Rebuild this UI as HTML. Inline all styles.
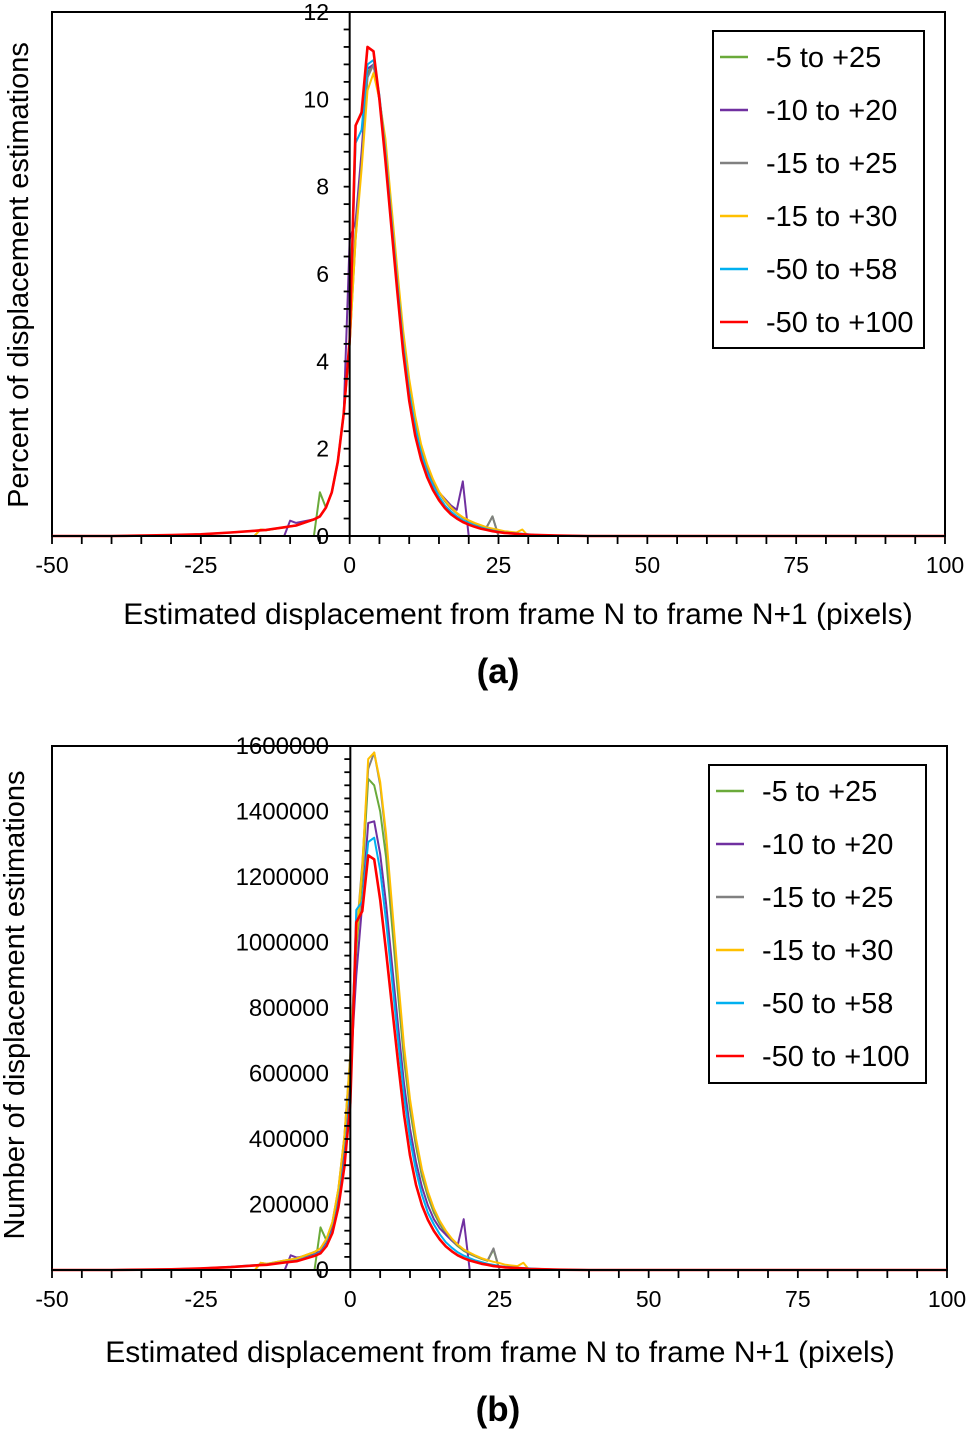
<!DOCTYPE html>
<html><head><meta charset="utf-8"><style>
body{margin:0;background:#fff;}
svg{display:block;font-family:"Liberation Sans",Arial,sans-serif;}
</style></head><body>
<svg id="fig" width="968" height="1432" viewBox="0 0 968 1432" xmlns="http://www.w3.org/2000/svg"></svg>
<script>
const xs=[-50,-40,-35,-30,-25,-20,-16,-15,-14,-11,-10,-9,-6,-5,-4,-3,-2,-1,0,1,2,3,4,5,6,7,8,9,10,11,12,13,14,15,16,17,18,19,20,21,22,23,24,25,26,28,29,30,31,35,40,100];
const seriesNames=["-5 to +25","-10 to +20","-15 to +25","-15 to +30","-50 to +58","-50 to +100"];
const seriesColors=["#6aaa3a","#7030a0","#808080","#ffc000","#00b0f0","#ff0000"];
const xTicks=[-50,-25,0,25,50,75,100];
const yTicksA=[0,2,4,6,8,10,12];
const yTicksB=[0,200000,400000,600000,800000,1000000,1200000,1400000,1600000];
// chart a: percent
const aGreen=[0,0,0,0,0,0,0,0,0,0,0,0,0,1.0,0.65,1.0,1.7,2.8,4.4,6.8,8.6,10.6,10.8,10.0,9.0,7.5,6.0,4.6,3.5,2.7,2.05,1.6,1.25,1.0,0.8,0.64,0.52,0.42,0.35,0.29,0.24,0.2,0.45,0,0,0,0,0,0,0,0,0];
const aPurple=[0,0,0,0,0,0,0,0,0,0,0.35,0.3,0.38,0.45,0.65,1.0,1.7,2.8,6.8,7.2,8.8,10.7,10.8,10.0,8.8,7.3,5.9,4.5,3.4,2.6,2.0,1.55,1.22,1.0,0.85,0.7,0.6,1.25,0,0,0,0,0,0,0,0,0,0,0,0,0,0];
const aGray=[0,0,0,0,0,0,0,0.15,0.13,0.2,0.22,0.24,0.38,0.45,0.65,1.0,1.7,2.8,4.5,7.0,8.5,10.5,10.8,10.0,9.0,7.5,6.0,4.6,3.5,2.7,2.05,1.6,1.25,1.0,0.8,0.64,0.52,0.42,0.35,0.29,0.24,0.2,0.45,0,0,0,0,0,0,0,0,0];
const aYellow=[0,0,0,0,0,0,0,0.15,0.13,0.2,0.22,0.24,0.38,0.45,0.65,1.0,1.7,2.8,4.4,6.8,8.4,10.2,10.6,10.0,9.1,7.6,6.1,4.7,3.6,2.75,2.1,1.65,1.3,1.02,0.82,0.66,0.53,0.43,0.36,0.3,0.25,0.2,0.17,0.14,0.11,0.08,0.15,0,0,0,0,0];
const aCyan=[0,0,0.01,0.02,0.04,0.08,0.12,0.13,0.14,0.2,0.22,0.24,0.38,0.45,0.65,1.0,1.7,2.8,4.5,9.0,9.3,10.8,10.9,10.1,8.8,7.3,5.8,4.4,3.3,2.5,1.9,1.45,1.15,0.9,0.7,0.56,0.45,0.36,0.3,0.24,0.2,0.16,0.13,0.1,0.08,0.06,0.05,0.04,0.03,0.01,0,0];
const aRed=[0,0,0.01,0.02,0.04,0.08,0.12,0.13,0.14,0.2,0.22,0.24,0.38,0.45,0.65,1.0,1.7,2.8,4.5,9.4,9.7,11.2,11.1,10.0,8.6,7.1,5.6,4.2,3.1,2.3,1.75,1.35,1.05,0.82,0.64,0.5,0.4,0.32,0.26,0.21,0.17,0.14,0.11,0.09,0.07,0.05,0.04,0.03,0.025,0.01,0,0];
// chart b: counts (thousands)
const bGreen=[0,0,0,0,0,0,0,0,0,0,0,0,0,130,90,140,238,392,630,980,1200,1500,1480,1400,1260,1050,840,644,490,378,287,224,175,140,112,90,73,59,49,41,34,28,63,0,0,0,0,0,0,0,0,0];
const bPurple=[0,0,0,0,0,0,0,0,0,0,45,38,48,57,83,127,216,356,600,900,1120,1365,1370,1270,1118,930,745,570,432,330,254,197,155,127,108,90,76,155,0,0,0,0,0,0,0,0,0,0,0,0,0,0];
const bGray=[0,0,0,0,0,0,0,22,19,29,32,35,55,66,95,146,248,409,657,1020,1240,1530,1580,1480,1314,1095,876,672,511,394,300,234,183,146,117,93,76,61,51,42,35,29,66,0,0,0,0,0,0,0,0,0];
const bYellow=[0,0,0,0,0,0,0,22,19,29,32,35,55,66,95,146,248,409,650,1010,1230,1560,1580,1490,1330,1110,890,685,522,402,308,240,188,150,120,96,78,63,53,44,36,30,25,21,16,12,22,0,0,0,0,0];
const bCyan=[0,0,1,2,5,10,15,16,17,24,27,29,46,54,79,121,206,339,545,1100,1125,1307,1320,1220,1065,883,702,532,400,303,230,175,139,109,85,68,54,44,36,29,24,19,16,12,10,7,6,5,4,1,0,0];
const bRed=[0,0,1,2,5,9,14,15,16,23,25,27,43,51,73,113,192,316,510,1062,1096,1266,1254,1130,972,802,633,475,350,260,198,153,119,93,72,57,45,36,29,24,19,16,12,10,8,6,5,3,3,1,0,0];

const NS="http://www.w3.org/2000/svg";
const svg=document.getElementById('fig');
function mk(tag,attrs,parent){const e=document.createElementNS(NS,tag);for(const k in attrs)e.setAttribute(k,attrs[k]);(parent||svg).appendChild(e);return e;}

function drawChart(cfg){
  const g=mk('g',{});
  
  
  const L=cfg.left,R=cfg.right,T=cfg.top,B=cfg.bottom;
  const sx=v=>L+(v+50)/150*(R-L);
  const sy=v=>B-v/cfg.ymax*(B-T);
  const box=mk('rect',{x:L,y:T,width:R-L,height:B-T,fill:'none',stroke:'#000','stroke-width':2},g);
  
  
  cfg.series.forEach((arr,i)=>{
    let d='';
    arr.forEach((v,j)=>{d+=(j?'L':'M')+sx(xs[j]).toFixed(1)+','+sy(v).toFixed(1);});
    const p=mk('path',{d:d,fill:'none',stroke:seriesColors[i],'stroke-width':i==5?2.6:2,'stroke-linejoin':'round'},g);
    
    
  });
  const x0=sx(0);
  const xa=mk('line',{x1:L,y1:B,x2:R,y2:B,stroke:'#000','stroke-width':2},g);
  
  
  for(let v=-50;v<=100;v+=5){mk('line',{x1:sx(v),y1:B,x2:sx(v),y2:B+8,stroke:'#000','stroke-width':1.8},g);}
  xTicks.forEach(v=>{
    const t=mk('text',{x:sx(v),y:B+37,'font-size':23,'text-anchor':'middle'},g);
    t.textContent=v;
    
    
  });
  const ya=mk('line',{x1:x0,y1:T,x2:x0,y2:B,stroke:'#000','stroke-width':2},g);
  
  
  const step=cfg.ymax/cfg.minorCount;
  for(let k=0;k<=cfg.minorCount;k++){const yy=sy(k*step);mk('line',{x1:x0-6,y1:yy,x2:x0,y2:yy,stroke:'#000','stroke-width':1.8},g);}
  cfg.yTicks.forEach(v=>{
    const t=mk('text',{x:cfg.ylabX,y:sy(v/cfg.yDiv)+8,'font-size':cfg.yFont,'text-anchor':'end'},g);
    t.textContent=v;
    
    
  });
  const xt=mk('text',{x:cfg.xtX,y:cfg.xtY,'font-size':30,'text-anchor':'middle'},g);
  xt.textContent='Estimated displacement from frame N to frame N+1 (pixels)';
  
  
  const yt=mk('text',{x:0,y:0,'font-size':29,'text-anchor':'middle',transform:'translate('+cfg.ytX+','+cfg.ytY+') rotate(-90)'},g);
  yt.textContent=cfg.ytitle;
  
  
  const cap=mk('text',{x:498,y:cfg.capY,'font-size':35,'font-weight':'bold','text-anchor':'middle'},g);
  cap.textContent=cfg.cap;
  
  
  const lg=mk('g',{},g);
  
  
  mk('rect',{x:cfg.lgX,y:cfg.lgY,width:cfg.lgW,height:cfg.lgH,fill:'#fff',stroke:'#000','stroke-width':2},lg);
  seriesNames.forEach((n,i)=>{
    const yy=cfg.lgY+26+i*53;
    const e=mk('g',{},lg);
    
    
    mk('line',{x1:cfg.lgX+7,y1:yy,x2:cfg.lgX+35,y2:yy,stroke:seriesColors[i],'stroke-width':2.5},e);
    const t=mk('text',{x:cfg.lgX+53,y:yy+10,'font-size':29},e);
    t.textContent=n;
  });
}
drawChart({id:'chart-a-percent',left:52,right:945,top:12,bottom:536,ymax:12,yDiv:1,yFont:23,minorCount:30,yTicks:yTicksA,ylabX:329,
  series:[aGreen,aPurple,aGray,aYellow,aCyan,aRed],xtX:518,xtY:624,ytX:28,ytY:275,ytitle:'Percent of displacement estimations',
  cap:'(a)',capY:683,lgX:713,lgY:31,lgW:211,lgH:317});
drawChart({id:'chart-b-count',left:52,right:947,top:746,bottom:1270,ymax:1600,yDiv:1000,yFont:24,minorCount:40,yTicks:yTicksB,ylabX:329,
  series:[bGreen,bPurple,bGray,bYellow,bCyan,bRed],xtX:500,xtY:1362,ytX:24,ytY:1005,ytitle:'Number of displacement estimations',
  cap:'(b)',capY:1421,lgX:709,lgY:765,lgW:217,lgH:318});
</script>
</body></html>
